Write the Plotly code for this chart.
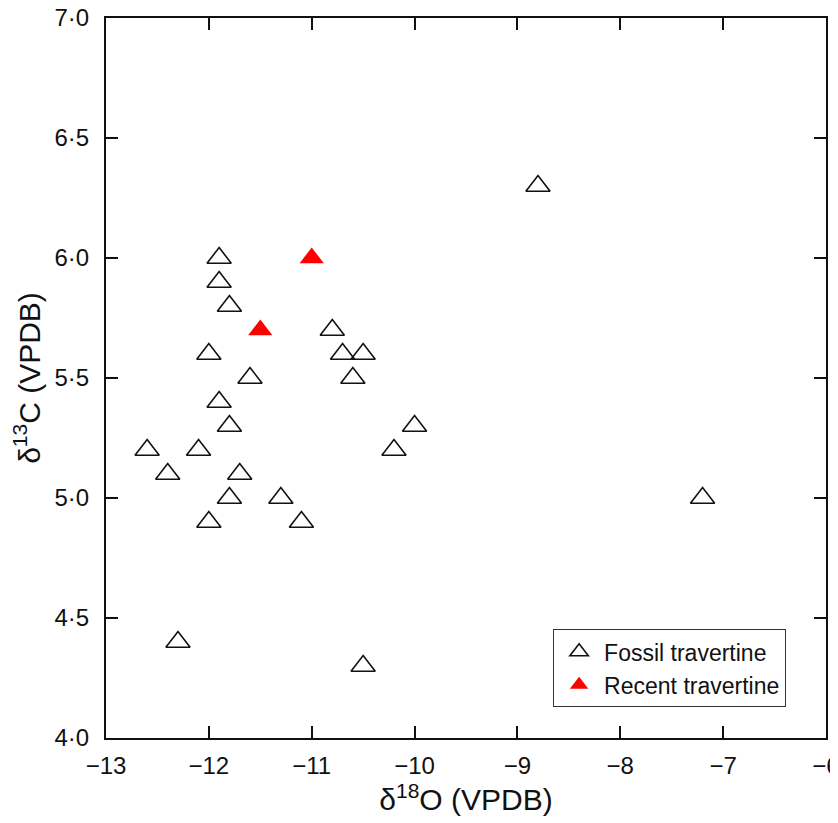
import plotly.graph_objects as go

fossil_d18O = [-8.8, -7.2, -11.9, -11.9, -11.8, -12.0, -11.6, -11.9, -11.8, -12.6, -12.1,
               -12.4, -11.7, -11.8, -11.3, -12.0, -11.1, -12.3, -10.5, -10.8, -10.7,
               -10.5, -10.6, -10.0, -10.2]
fossil_d13C = [6.3, 5.0, 6.0, 5.9, 5.8, 5.6, 5.5, 5.4, 5.3, 5.2, 5.2,
               5.1, 5.1, 5.0, 5.0, 4.9, 4.9, 4.4, 4.3, 5.7, 5.6,
               5.6, 5.5, 5.3, 5.2]
recent_d18O = [-11.5, -11.0]
recent_d13C = [5.7, 6.0]

x_ticks = [-13, -12, -11, -10, -9, -8, -7, -6]
x_ticktext = ["\u221213", "\u221212", "\u221211", "\u221210", "\u22129", "\u22128", "\u22127", "\u22126"]
y_ticks = [4.0, 4.5, 5.0, 5.5, 6.0, 6.5, 7.0]
y_ticktext = ["4\u00b70", "4\u00b75", "5\u00b70", "5\u00b75", "6\u00b70", "6\u00b75", "7\u00b70"]

FONT = "Liberation Sans, Arial, sans-serif"

fig = go.Figure()
fig.add_trace(go.Scatter(
    x=fossil_d18O, y=fossil_d13C, mode="markers", name="Fossil travertine",
    marker=dict(symbol="triangle-up-open", size=21, color="#111111", line=dict(width=1.6, color="#111111")),
))
fig.add_trace(go.Scatter(
    x=recent_d18O, y=recent_d13C, mode="markers", name="Recent travertine",
    marker=dict(symbol="triangle-up", size=21, color="#ff0000", line=dict(width=0)),
))

axis_common = dict(
    showgrid=False, zeroline=False, showline=True, linecolor="#111111", linewidth=2,
    mirror="ticks", ticks="inside", ticklen=12, tickwidth=2, tickcolor="#111111",
    tickfont=dict(family=FONT, size=24, color="#111111"), automargin=False,
    ticklabeloverflow="allow",
)

# page body has an 8px default margin, so the figure is sized 830x815
fig.update_layout(
    width=830, height=815,
    margin=dict(l=98, r=12, t=10, b=85),
    paper_bgcolor="white", plot_bgcolor="white",
    font=dict(family=FONT, color="#111111"),
    xaxis=dict(range=[-13, -6], tickvals=x_ticks, ticktext=x_ticktext,
               title=dict(text="\u03b4<sup>18</sup>O (VPDB)", font=dict(family=FONT, size=30), standoff=8),
               ticklabelstandoff=5, **axis_common),
    yaxis=dict(range=[4.0, 7.0], tickvals=y_ticks, ticktext=y_ticktext,
               title=dict(text="\u03b4<sup>13</sup>C (VPDB)", font=dict(family=FONT, size=30), standoff=5),
               ticklabelstandoff=10, **axis_common),
    legend=dict(x=0.621, y=0.151, xanchor="left", yanchor="top",
                bgcolor="white", bordercolor="#333333", borderwidth=1,
                font=dict(family=FONT, size=23), itemwidth=40, tracegroupgap=2),
    showlegend=True,
)

fig.write_html("out.html")
